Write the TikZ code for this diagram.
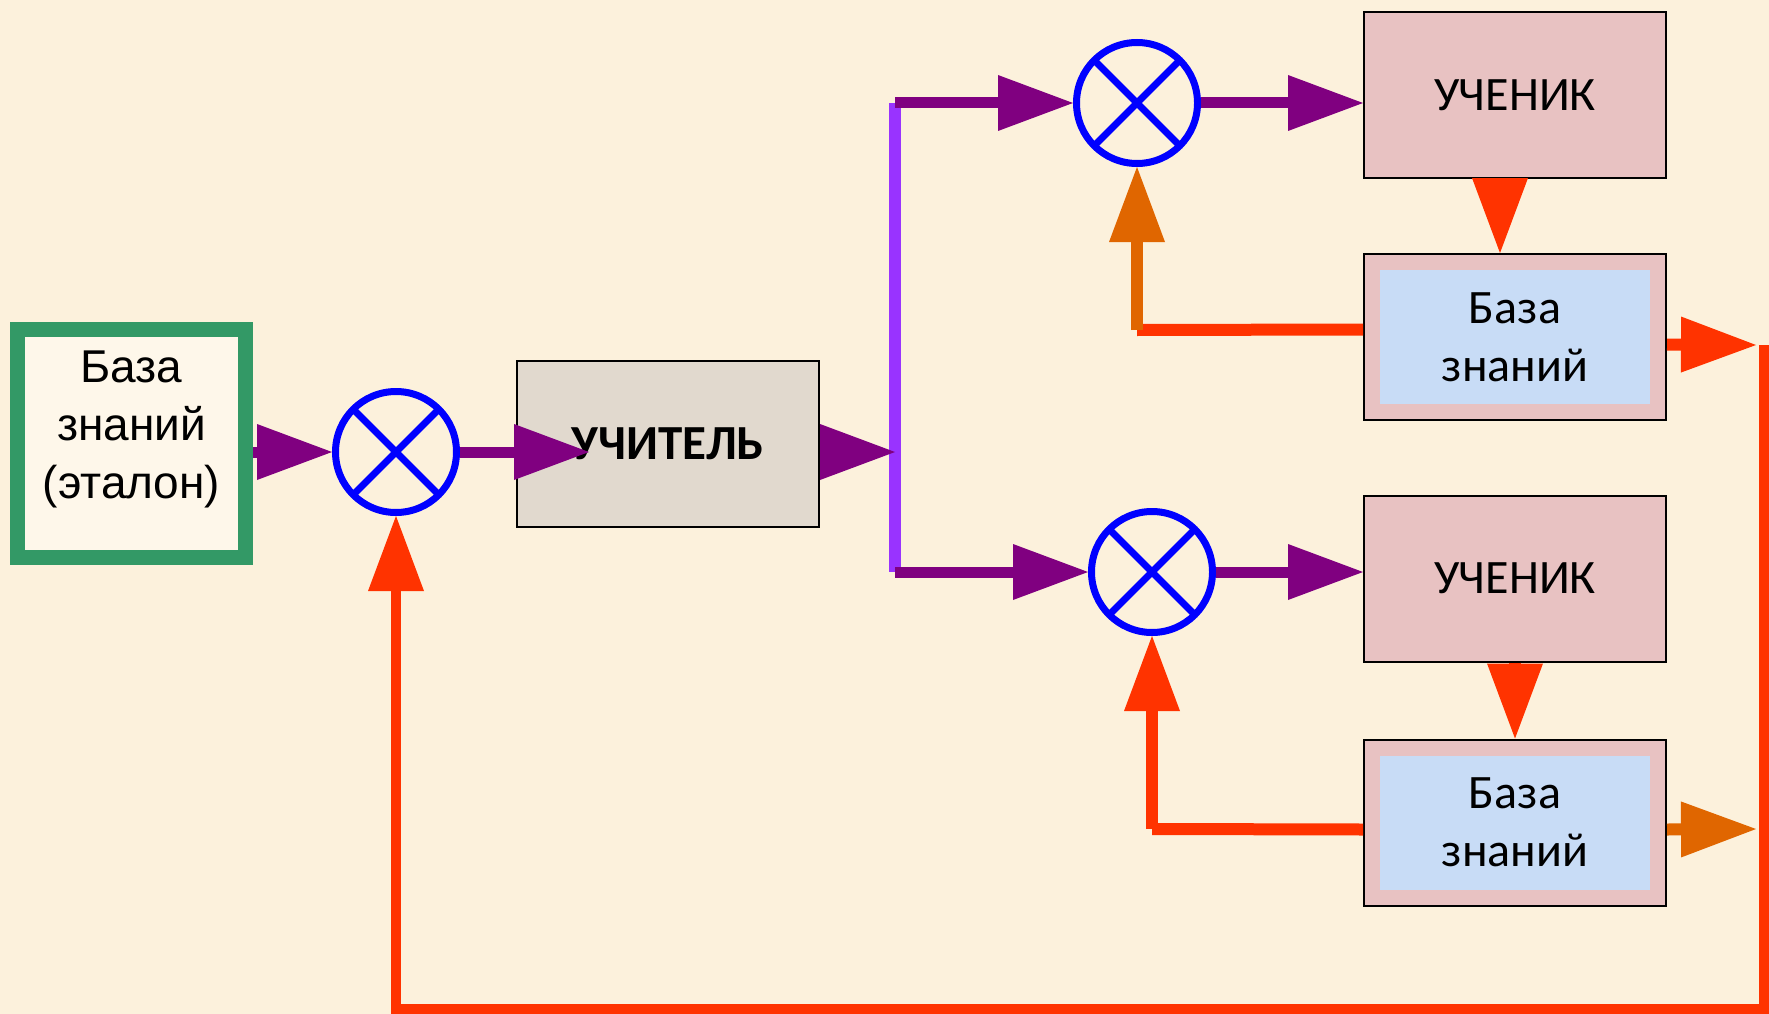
\documentclass[tikz,border=0pt]{standalone}
\usepackage{fontspec}
\setmainfont{Liberation Sans}
\newfontfamily\calibri{Carlito}
\usetikzlibrary{arrows.meta, positioning}

\definecolor{bgcream}{RGB}{252,241,220}
\definecolor{etaloncream}{RGB}{254,247,234}
\definecolor{etalongreen}{RGB}{51,153,102}
\definecolor{flowpurple}{RGB}{128,0,128}
\definecolor{splitviolet}{RGB}{153,51,255}
\definecolor{sumblue}{RGB}{0,0,255}
\definecolor{fbred}{RGB}{255,51,0}
\definecolor{fborange}{RGB}{224,102,0}
\definecolor{teachergray}{RGB}{225,217,206}
\definecolor{studentpink}{RGB}{232,194,194}
\definecolor{kbblue}{RGB}{200,220,246}

\begin{document}
\begin{tikzpicture}[
    x=1pt, y=-1pt,
    node distance=75pt,
    head/.style={-{Triangle[length=75pt, width=56pt, line width=0pt]}},
    etalonbox/.style={draw=etalongreen, rectangle, line width=15pt, fill=etaloncream, minimum width=228pt, minimum height=228pt, inner sep=0pt, align=center, font=\fontsize{46}{58}\selectfont},
    sumnode/.style={draw=sumblue, circle, line width=7pt, minimum size=121pt, inner sep=0pt,
        path picture={\draw[sumblue, line width=7pt] (path picture bounding box.south west) -- (path picture bounding box.north east) (path picture bounding box.north west) -- (path picture bounding box.south east);}},
    block/.style={draw=black, rectangle, line width=2pt, minimum width=302pt, minimum height=166pt, inner sep=0pt, align=center},
    teacherbox/.style={block, fill=teachergray, font=\calibri\bfseries\fontsize{49}{58}\selectfont},
    studentbox/.style={block, fill=studentpink, font=\calibri\fontsize{48}{58}\selectfont},
    kbbox/.style={studentbox,
        path picture={\fill[kbblue] ([shift={(16pt,-16pt)}]path picture bounding box.north west) rectangle ([shift={(-16pt,16pt)}]path picture bounding box.south east);}},
    flow/.style={head, flowpurple, line width=11pt},
    redline/.style={fbred, line width=12pt},
    redarrow/.style={head, redline},
    orangearrow/.style={head, fborange, line width=12pt}
]
\path[use as bounding box, fill=bgcream] (0,0) rectangle (1769,1014);

% Nodes
\node (etalon) [etalonbox] at (131.5,443.5) {База\\знаний\\(эталон)\rule[-38pt]{0pt}{38pt}};
\node (sum1) [sumnode] at (396,452) {};
\node (teacher) [teacherbox] at (668,444) {УЧИТЕЛЬ};
\node (sum2) [sumnode] at (1137,103) {};
\node (sum3) [sumnode] at (1152,572) {};
\node (student1) [studentbox] at (1515,95) {УЧЕНИК};
\node (kb1) [kbbox, below=74pt of student1] {База\\знаний};
\node (student2) [studentbox] at (1515,578.5) {УЧЕНИК};
\node (kb2) [kbbox, below=76pt of student2] {База\\знаний};

\coordinate (split) at (895,452);
\coordinate (splittop) at (895,103);
\coordinate (splitbot) at (895,572);
\coordinate (fb1) at (1137,330);
\coordinate (fb2) at (1152,829);
\coordinate (out1) at (1756,345);
\coordinate (out2) at (1756,829);
\coordinate (loopstart) at (1764,345);
\coordinate (loopcorner) at (1764,1009);

% Arrows
\draw[splitviolet, line width=12pt] (splittop) -- (splitbot);
\draw[flow] (etalon.east |- sum1.west) -- (sum1.west);
\draw[flow, shorten >=-73pt] (sum1.east) -- (sum1.east -| teacher.west);
\draw[flow] (teacher.east |- split) -- (split);
\draw[flow] (splittop) -- (sum2.west);
\draw[flow] (splitbot) -- (sum3.west);
\draw[flow] (sum2.east) -- (student1.west |- sum2.east);
\draw[flow] (sum3.east) -- (student2.west |- sum3.east);
\draw[redarrow] ([xshift=-15pt]student1.south) -- ([xshift=-15pt]kb1.north);
\draw[redarrow] (student2.south) -- (kb2.north);
\draw[redline] ([yshift=7.5pt]kb1.west) -- (fb1);
\draw[orangearrow] (fb1) -- (sum2.south);
\draw[redline] ([yshift=-7pt]kb2.west) -- (fb2);
\draw[redarrow] (fb2) -- (sum3.south);
\draw[redarrow] ([yshift=-7.5pt]kb1.east) -- (out1);
\draw[orangearrow] ([yshift=-7pt]kb2.east) -- (out2);
\draw[redarrow, line width=10pt] (loopstart) -- (loopcorner) -| (sum1.south);

\end{tikzpicture}
\end{document}
